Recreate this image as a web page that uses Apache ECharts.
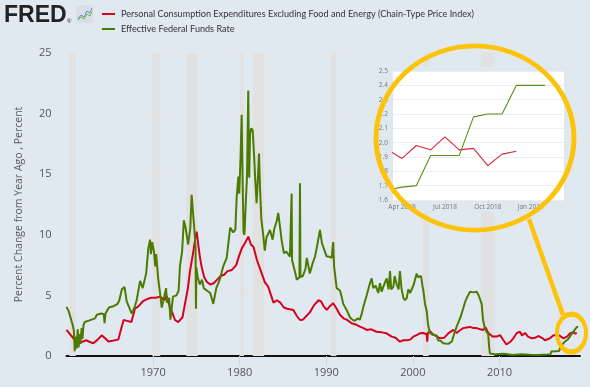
<!DOCTYPE html>
<html><head><meta charset="utf-8">
<script src="https://cdn.jsdelivr.net/npm/echarts@6/dist/echarts.min.js"></script>
<style>html,body{margin:0;padding:0;background:#e1e9f0}#c{width:590px;height:387px}</style>
</head><body><div id="c"></div>
<script>
// ---- data ----
const seriesNames = ['Personal Consumption Expenditures Excluding Food and Energy (Chain-Type Price Index)', 'Effective Federal Funds Rate'];
const xTickYears = [1970, 1980, 1990, 2000, 2010];
const recessions = [[1960.33,1961.08],[1969.92,1970.83],[1973.83,1975.17],[1980.0,1980.5],[1981.5,1982.83],[1990.5,1991.17],[2001.17,2001.83],[2007.92,2009.42]];
const pce = [
[1960.0,2.15],[1960.4,1.8],[1960.8,1.45],[1961.2,1.2],[1961.56,1.05],[1961.9,1.2],[1962.3,1.3],[1962.7,1.15],[1963.1,1.05],[1963.6,1.35],
[1964.06,1.7],[1964.4,1.5],[1964.83,1.2],[1965.3,1.25],[1965.98,1.35],[1966.3,2.2],[1966.6,2.97],[1967.0,2.9],[1967.5,2.8],[1967.9,3.9],
[1968.3,4.1],[1968.8,4.5],[1969.3,4.7],[1969.8,4.8],[1970.3,4.8],[1970.8,4.9],[1971.0,4.75],[1971.3,4.6],[1971.57,4.95],[1971.95,4.0],
[1972.2,3.6],[1972.53,2.97],[1972.9,2.8],[1973.1,2.7],[1973.4,3.2],[1973.68,4.3],[1974.0,5.5],[1974.26,7.0],[1974.6,8.4],[1974.85,9.6],
[1975.03,10.26],[1975.2,9.3],[1975.4,8.2],[1975.6,7.37],[1975.9,6.5],[1976.2,6.13],[1976.6,5.9],[1977.0,6.0],[1977.4,6.3],[1977.8,6.6],
[1978.2,6.7],[1978.6,7.0],[1979.1,7.1],[1979.6,7.5],[1979.9,8.2],[1980.25,8.9],[1980.6,9.3],[1981.0,9.85],[1981.3,9.2],[1981.6,9.0],
[1982.0,7.9],[1982.5,6.9],[1982.9,6.1],[1983.3,5.7],[1983.9,4.4],[1984.3,4.6],[1984.7,4.4],[1985.1,4.0],[1985.5,3.9],[1986.2,3.8],
[1986.6,3.3],[1986.96,2.97],[1987.3,3.0],[1987.7,3.3],[1988.1,3.6],[1988.6,4.2],[1989.1,4.6],[1989.4,4.5],[1989.7,4.1],[1990.05,3.8],
[1990.4,4.1],[1990.8,4.35],[1991.2,3.9],[1991.58,3.4],[1992.0,3.1],[1992.35,3.0],[1992.93,2.7],[1993.4,2.6],[1993.88,2.42],[1994.3,2.3],
[1994.66,2.15],[1995.2,2.2],[1995.8,2.0],[1996.4,1.95],[1996.97,1.87],[1997.55,1.6],[1998.0,1.5],[1998.5,1.18],[1998.9,1.3],[1999.28,1.3],
[1999.7,1.35],[2000.05,1.6],[2000.5,1.75],[2000.8,1.87],[2001.2,1.9],[2001.6,1.8],[2001.66,1.18],[2001.72,1.9],[2001.97,2.05],[2002.3,1.8],
[2002.55,1.7],[2003.13,1.46],[2003.6,1.5],[2004.09,1.87],[2004.67,2.15],[2005.06,1.9],[2005.4,2.1],[2005.8,2.3],[2006.2,2.35],[2006.6,2.4],
[2007.0,2.3],[2007.37,2.3],[2007.8,2.2],[2008.1,2.15],[2008.4,2.35],[2008.7,1.9],[2009.2,1.6],[2009.67,1.6],[2010.06,1.73],[2010.44,1.32],
[2010.8,0.95],[2011.0,0.9],[2011.3,1.2],[2011.6,1.46],[2012.0,1.9],[2012.37,2.0],[2012.6,1.7],[2012.95,1.9],[2013.3,1.6],[2013.72,1.46],
[2014.1,1.5],[2014.48,1.65],[2014.9,1.5],[2015.25,1.3],[2015.83,1.46],[2016.2,1.7],[2016.6,1.73],[2016.9,1.7],[2017.37,1.46],[2017.8,1.6],
[2018.14,1.87],[2018.5,1.96],[2018.75,1.84],[2018.92,1.94]
];
const effr = [
[1960.0,4.05],[1960.25,3.7],[1960.5,3.1],[1960.7,2.6],[1960.85,2.1],[1960.95,0.4],[1961.05,1.6],[1961.15,0.6],[1961.3,2.2],[1961.4,0.7],
[1961.5,1.8],[1961.6,1.0],[1961.75,2.3],[1961.85,1.4],[1961.95,2.5],[1962.1,2.8],[1962.5,2.9],[1962.9,3.0],[1963.3,3.1],[1963.5,3.4],
[1964.0,3.5],[1964.3,3.45],[1964.4,2.7],[1964.5,3.5],[1964.9,4.0],[1965.4,4.1],[1965.9,4.3],[1966.1,4.6],[1966.4,5.5],[1966.7,5.7],
[1966.95,4.5],[1967.3,3.9],[1967.55,3.5],[1967.9,4.1],[1968.1,4.6],[1968.5,6.2],[1968.8,5.6],[1969.2,6.8],[1969.45,8.9],[1969.65,9.6],
[1969.75,8.4],[1969.9,9.4],[1970.1,8.6],[1970.25,7.4],[1970.35,8.4],[1970.6,6.3],[1970.8,5.2],[1971.0,4.0],[1971.2,4.6],[1971.5,5.6],
[1971.6,4.4],[1971.85,4.8],[1972.0,3.0],[1972.3,4.9],[1972.7,5.0],[1972.95,5.4],[1973.1,7.4],[1973.35,8.6],[1973.55,11.2],[1973.75,10.6],
[1974.05,9.2],[1974.3,10.6],[1974.45,13.3],[1974.6,11.9],[1974.75,10.6],[1974.9,9.0],[1974.95,3.9],[1975.0,7.3],[1975.15,6.5],[1975.4,5.9],
[1975.65,6.3],[1975.85,5.6],[1976.2,5.4],[1976.6,5.2],[1976.95,4.3],[1977.3,5.6],[1977.7,6.3],[1978.1,7.4],[1978.5,8.1],[1978.9,10.6],
[1979.25,10.2],[1979.5,10.4],[1979.65,13.1],[1979.85,14.8],[1979.95,13.4],[1980.1,16.4],[1980.23,19.9],[1980.35,14.0],[1980.45,10.2],[1980.55,10.0],
[1980.7,12.6],[1980.85,14.9],[1980.99,21.9],[1981.1,14.7],[1981.2,18.4],[1981.35,18.8],[1981.5,18.6],[1981.65,16.7],[1981.8,14.5],[1981.95,12.6],
[1982.1,14.6],[1982.23,16.7],[1982.35,13.8],[1982.5,11.3],[1982.7,10.1],[1982.9,8.7],[1983.1,9.8],[1983.5,10.4],[1983.8,9.6],[1984.0,10.5],
[1984.3,11.2],[1984.45,11.8],[1984.7,10.4],[1984.85,9.5],[1985.1,8.5],[1985.4,8.6],[1985.8,8.2],[1986.0,13.4],[1986.05,7.9],[1986.3,7.2],
[1986.6,6.3],[1986.9,6.5],[1986.96,14.25],[1987.02,6.5],[1987.3,6.6],[1987.6,7.2],[1987.75,8.1],[1988.1,6.8],[1988.4,7.6],[1988.7,8.2],
[1989.0,9.3],[1989.27,10.4],[1989.5,9.3],[1989.65,9.0],[1990.05,8.2],[1990.3,8.2],[1990.62,8.1],[1990.8,9.4],[1990.9,7.4],[1991.0,6.8],
[1991.2,5.6],[1991.58,5.4],[1991.8,4.8],[1991.96,4.3],[1992.35,3.8],[1992.73,3.2],[1993.0,3.0],[1993.3,2.9],[1993.6,3.1],[1993.88,3.0],
[1994.1,3.5],[1994.3,4.1],[1994.66,5.0],[1995.0,5.9],[1995.24,6.4],[1995.43,5.6],[1995.7,5.8],[1996.0,5.2],[1996.2,6.0],[1996.4,5.3],
[1996.58,5.7],[1996.97,6.4],[1997.2,5.5],[1997.36,7.0],[1997.5,5.5],[1997.74,5.7],[1997.9,6.6],[1998.13,5.9],[1998.35,5.5],[1998.5,7.0],
[1998.7,5.5],[1998.9,4.8],[1999.09,4.6],[1999.3,4.8],[1999.47,5.5],[1999.7,5.2],[1999.86,5.5],[2000.1,5.9],[2000.44,6.8],[2000.6,6.5],
[2000.8,6.4],[2000.95,6.6],[2001.1,5.8],[2001.2,5.45],[2001.4,4.3],[2001.6,3.7],[2001.75,2.6],[2001.97,1.9],[2002.3,1.75],[2002.75,1.7],
[2002.9,1.3],[2003.2,1.25],[2003.5,1.05],[2004.1,1.0],[2004.5,1.2],[2004.8,1.9],[2005.1,2.5],[2005.5,3.2],[2005.8,3.9],[2006.0,4.4],
[2006.3,4.9],[2006.6,5.3],[2007.0,5.25],[2007.37,5.3],[2007.6,5.0],[2007.8,4.6],[2007.94,4.3],[2008.1,3.0],[2008.3,2.3],[2008.5,2.0],
[2008.7,1.8],[2008.8,0.8],[2008.9,0.2],[2009.5,0.15],[2010.5,0.18],[2011.5,0.08],[2012.5,0.15],[2013.5,0.1],[2014.5,0.09],[2015.5,0.13],
[2015.9,0.15],[2016.0,0.38],[2016.9,0.42],[2017.0,0.65],[2017.2,0.9],[2017.5,1.15],[2017.95,1.4],[2018.2,1.68],[2018.45,1.91],[2018.7,2.18],
[2018.95,2.4],[2019.08,2.4]
];
// inset (months counted from Jan 2018 = 0)
const insetPceMonths = [2,3,4,5,6,7,8,9,10,11];
const insetPce = [1.95,1.89,1.98,1.95,2.04,1.95,1.96,1.84,1.92,1.94];
const insetEffrMonths = [2,3,4,5,6,7,8,9,10,11,12,13];
const insetEffr = [1.67,1.69,1.70,1.91,1.91,1.91,2.18,2.20,2.20,2.40,2.40,2.40];
const insetTickMonths = [3,6,9,12];
const insetTickLabels = ['Apr 2018','Jul 2018','Oct 2018','Jan 2019'];

const RED = '#d7001e', GREEN = '#4b7b00', YEL = '#fcc30a';
const chart = echarts.init(document.getElementById('c'), null, {renderer:'canvas'});
const zip = (a,b) => a.map((v,i)=>[v,b[i]]);

chart.setOption({
  backgroundColor: '#e1e9f0',
  animation: false,
  textStyle: {fontFamily: 'Open Sans'},
  legend: {
    data: seriesNames.map(n=>({name:n, icon:'rect'})),
    orient: 'vertical', left: 102, top: 8, padding: 0, itemWidth: 13, itemHeight: 2, itemGap: 3,
    textStyle: {fontSize: 9.1, color: '#333', lineHeight: 12, fontFamily: 'Lato', padding:[0,0,0,1]},
    selectedMode: false
  },
  grid: [
    {left: 66.5, right: 10, top: 53, bottom: 31},
    {left: 393, right: 26, top: 71, bottom: 187}
  ],
  xAxis: [
    {type:'value', gridIndex:0, min:1960, max:2019.3,
     axisLine:{lineStyle:{color:'#111', width:2}},
     axisTick:{customValues: xTickYears, length: 9, lineStyle:{color:'#c6d4e3'}},
     axisLabel:{customValues: xTickYears, formatter: v=>String(v), color:'#555', fontSize:11, margin:11},
     splitLine:{show:false}},
    {type:'value', gridIndex:1, min:2.37, max:14.33, z:10,
     axisLine:{show:false},
     axisTick:{customValues: insetTickMonths, length: 3, lineStyle:{color:'#d0d8e0'}},
     axisLabel:{customValues: insetTickMonths, formatter: v=>insetTickLabels[insetTickMonths.indexOf(v)], color:'#777', fontSize:6.5, margin:4},
     splitLine:{show:false}}
  ],
  yAxis: [
    {type:'value', gridIndex:0, min:0, max:25, interval:5,
     name:'Percent Change from Year Ago , Percent', nameLocation:'middle', nameGap:42,
     nameTextStyle:{color:'#595959', fontSize:10.5},
     axisLine:{show:false}, axisTick:{show:false},
     axisLabel:{color:'#555', fontSize:11, margin:15},
     splitLine:{lineStyle:{color:'#e6e6e6'}}},
    {type:'value', gridIndex:1, min:1.6, max:2.5, interval:0.1, z:10,
     axisLine:{show:false}, axisTick:{show:false},
     axisLabel:{color:'#777', fontSize:6.5, margin:5, formatter: v=>v.toFixed(1)},
     splitLine:{lineStyle:{color:'#eeeeee'}}}
  ],
  series: [
    {type:'line', name:'recessions', xAxisIndex:0, yAxisIndex:0, data:[], z:1, silent:true,
     markArea:{silent:true, itemStyle:{color:'#e1e1e1', opacity:1}, data: recessions.map(r=>[{xAxis:r[0]},{xAxis:r[1]}])}},
    {type:'line', name:seriesNames[0], xAxisIndex:0, yAxisIndex:0, data:pce, showSymbol:false, z:3,
     lineStyle:{color:RED, width:2}, itemStyle:{color:RED}},
    {type:'line', name:seriesNames[1], xAxisIndex:0, yAxisIndex:0, data:effr, showSymbol:false, z:3,
     lineStyle:{color:GREEN, width:2}, itemStyle:{color:GREEN}},
    {type:'line', name:'inset pce', xAxisIndex:1, yAxisIndex:1, data:zip(insetPceMonths, insetPce), showSymbol:false, z:12,
     lineStyle:{color:'#d9263a', width:1.1}},
    {type:'line', name:'inset effr', xAxisIndex:1, yAxisIndex:1, data:zip(insetEffrMonths, insetEffr), showSymbol:false, z:12,
     lineStyle:{color:'#5b8c1e', width:1.1}}
  ],
  graphic: [
    {type:'text', left:4, top:4, z:5, style:{text:'FRED', font:'900 23px "Liberation Sans"', fill:'#222'}},
    {type:'text', left:67, top:18, z:5, style:{text:'®', font:'6px "Liberation Sans"', fill:'#222'}},
    {type:'rect', shape:{x:76, y:5, width:17, height:18, r:2}, z:5, style:{fill:'#d9dfe4'}},
    {type:'polyline', shape:{points:[[78,19],[81,15],[84,17],[87,11],[90,13],[92,8]]}, z:6, style:{stroke:'#4a90d0', lineWidth:1, fill:null}},
    {type:'polyline', shape:{points:[[78,20],[81,17],[84,19],[87,14],[90,16],[92,12]]}, z:6, style:{stroke:'#7cb342', lineWidth:1, fill:null}},
    {type:'rect', shape:{x:377, y:67, width:191, height:145}, z:8, style:{fill:'#dfe7ef'}},
    {type:'rect', shape:{x:393, y:71, width:171, height:129}, z:9, style:{fill:'#ffffff'}},
    {type:'circle', x:475, y:138, scaleY:0.93, shape:{cx:0, cy:0, r:99}, z:30, style:{fill:null, stroke:YEL, lineWidth:5, strokeNoScale:true}},
    {type:'circle', x:571.5, y:333, scaleY:1.3, shape:{cx:0, cy:0, r:14.5}, z:30, style:{fill:null, stroke:YEL, lineWidth:4, strokeNoScale:true}},
    {type:'line', shape:{x1:529, y1:219, x2:563, y2:315}, z:30, style:{stroke:YEL, lineWidth:4.5}}
  ]
});
</script></body></html>
